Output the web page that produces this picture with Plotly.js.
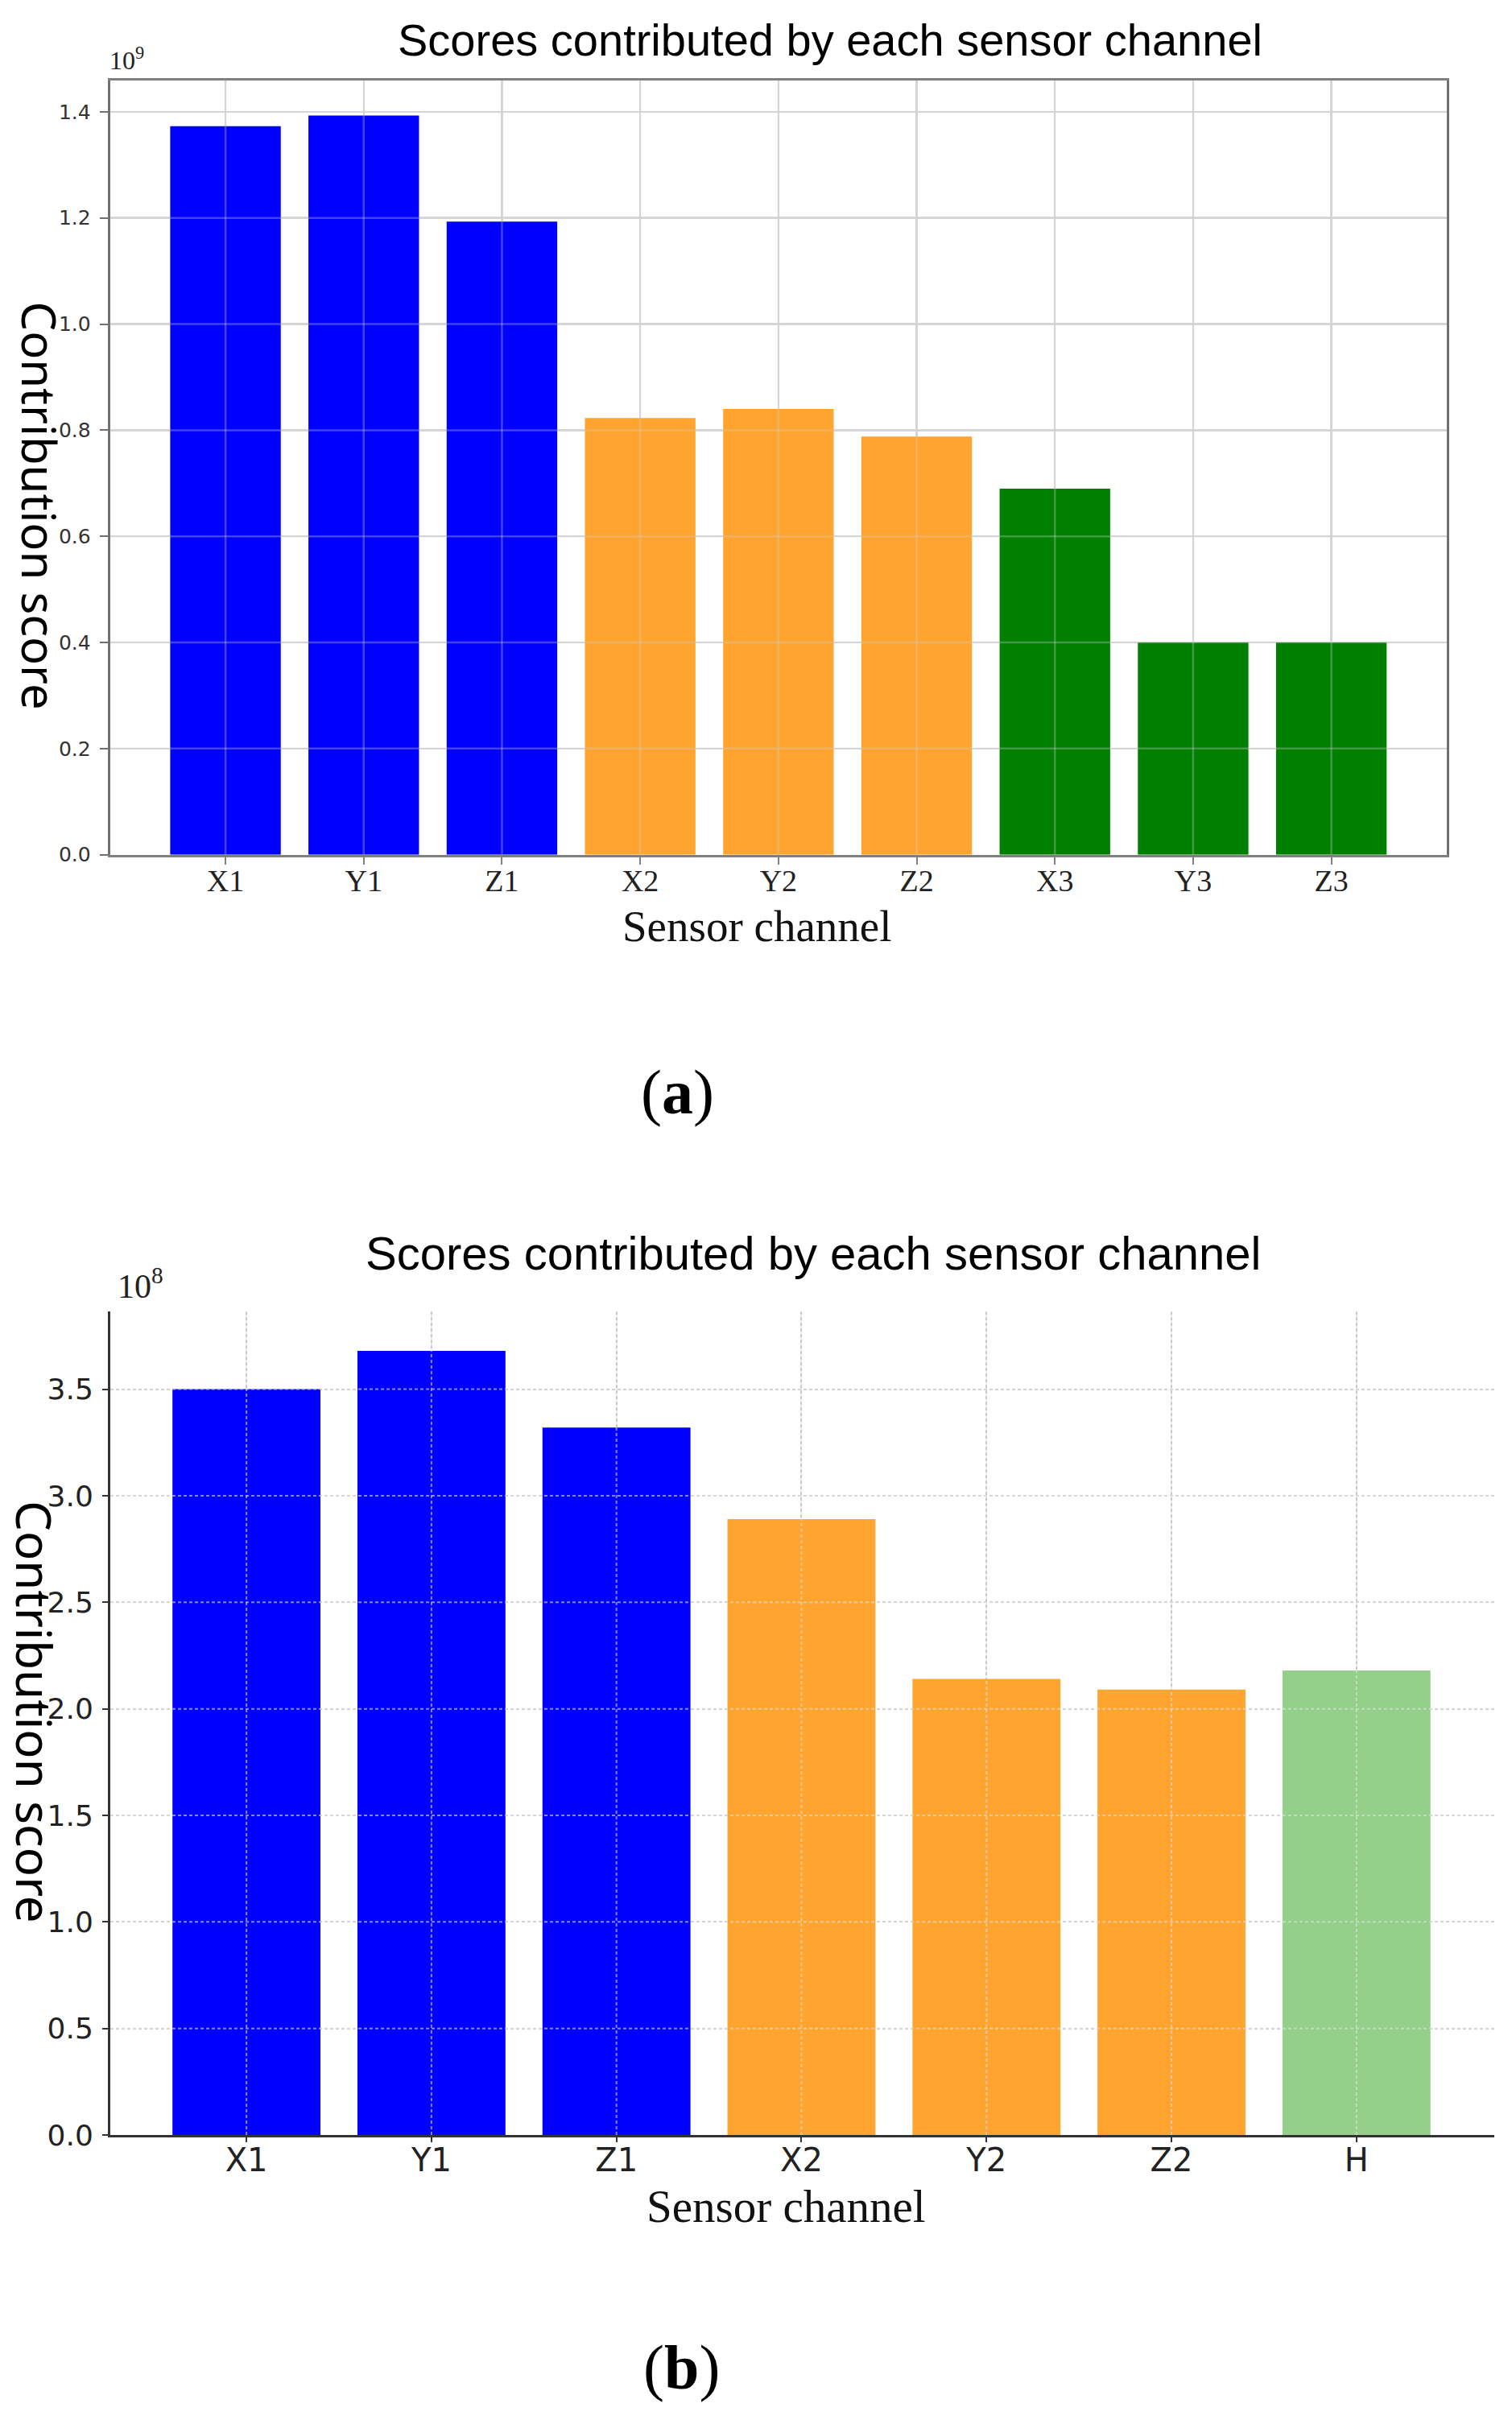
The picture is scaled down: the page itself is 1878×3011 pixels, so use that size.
<!DOCTYPE html>
<html>
<head>
<meta charset="utf-8">
<script src="https://cdn.plot.ly/plotly-3.0.1.min.js"></script>
<style>html,body{margin:0;padding:0;background:#fff;} #chart{width:1878px;height:3011px;}</style>
</head>
<body>
<div id="chart"></div>
<script>
// ---------- data (values in axis units; multiplier shown as 10^exp) ----------
const channelsA = ['X1','Y1','Z1','X2','Y2','Z2','X3','Y3','Z3'];
const scoresA   = [1.373, 1.393, 1.193, 0.823, 0.840, 0.788, 0.690, 0.400, 0.400];
const groupA    = [1, 1, 1, 2, 2, 2, 3, 3, 3];
const expA      = 9;
const yTicksA   = [0.0, 0.2, 0.4, 0.6, 0.8, 1.0, 1.2, 1.4];

const channelsB = ['X1','Y1','Z1','X2','Y2','Z2','H'];
const scoresB   = [3.50, 3.68, 3.32, 2.89, 2.14, 2.09, 2.18];
const groupB    = [1, 1, 1, 2, 2, 2, 3];
const expB      = 8;
const yTicksB   = [0.0, 0.5, 1.0, 1.5, 2.0, 2.5, 3.0, 3.5];

const chartTitle = 'Scores contributed by each sensor channel';
const xTitle = 'Sensor channel';
const yTitle = 'Contribution score';

// ---------- styles ----------
const colorsA = {1:'#0000FF', 2:'#FFA52F', 3:'#008000'};
const colorsB = {1:'#0000FF', 2:'#FFA52F', 3:'#94D08A'};
const W = 1878, H = 3011;
const SANS = 'Liberation Sans, Arial, sans-serif';
const SERIF = 'Liberation Serif, Times New Roman, serif';
const TICKSANS = 'DejaVu Sans, sans-serif';
const px = v => v / W;           // pixel -> paper x
const py = v => 1 - v / H;       // pixel -> paper y

const traceA = {
  type:'bar', x: channelsA, y: scoresA, xaxis:'x', yaxis:'y',
  marker:{color: groupA.map(g => colorsA[g]), line:{width:0}},
  hoverinfo:'x+y', showlegend:false
};
const traceB = {
  type:'bar', x: channelsB, y: scoresB, xaxis:'x2', yaxis:'y2',
  marker:{color: groupB.map(g => colorsB[g]), line:{width:0}},
  hoverinfo:'x+y', showlegend:false
};

// grid lines drawn above bars (as in the reference)
const shapes = [];
channelsA.forEach(c => shapes.push({type:'line', layer:'above', xref:'x', yref:'y domain', x0:c, x1:c, y0:0, y1:1,
  line:{color:'rgba(205,205,205,0.32)', width:2.5}}));
yTicksA.slice(1).forEach(t => shapes.push({type:'line', layer:'above', xref:'x domain', yref:'y', x0:0, x1:1, y0:t, y1:t,
  line:{color:'rgba(205,205,205,0.32)', width:2.5}}));
channelsB.forEach(c => shapes.push({type:'line', layer:'above', xref:'x2', yref:'y2 domain', x0:c, x1:c, y0:0, y1:1,
  line:{color:'rgba(225,225,225,0.6)', width:2, dash:'4px,3px'}}));
yTicksB.slice(1).forEach(t => shapes.push({type:'line', layer:'above', xref:'x2 domain', yref:'y2', x0:0, x1:1, y0:t, y1:t,
  line:{color:'rgba(225,225,225,0.6)', width:2, dash:'4px,3px'}}));

const annotations = [
  // panel (a)
  {text: chartTitle, xref:'paper', yref:'paper', x:px(1031), y:py(50), xanchor:'center', yanchor:'middle', showarrow:false,
   font:{family:SANS, size:56, color:'#000'}},
  {text: '10<sup>' + expA + '</sup>', xref:'paper', yref:'paper', x:px(134), y:py(73), xanchor:'left', yanchor:'middle', showarrow:false,
   font:{family:SERIF, size:32, color:'#222'}},
  {text: yTitle, xref:'paper', yref:'paper', x:px(8), y:py(628), xanchor:'left', yanchor:'middle', textangle:90, showarrow:false,
   font:{family:'Noto Sans, sans-serif', size:58, color:'#000'}},
  {text: xTitle, xref:'paper', yref:'paper', x:px(940), y:py(1150), xanchor:'center', yanchor:'middle', showarrow:false,
   font:{family:SERIF, size:55, color:'#111'}},
  {text: '(<b>a</b>)', xref:'paper', yref:'paper', x:px(841), y:py(1356), xanchor:'center', yanchor:'middle', showarrow:false,
   font:{family:SERIF, size:78, color:'#000'}},
  // panel (b)
  {text: chartTitle, xref:'paper', yref:'paper', x:px(1010), y:py(1556), xanchor:'center', yanchor:'middle', showarrow:false,
   font:{family:SANS, size:58, color:'#000'}},
  {text: '10<sup>' + expB + '</sup>', xref:'paper', yref:'paper', x:px(144), y:py(1594), xanchor:'left', yanchor:'middle', showarrow:false,
   font:{family:SERIF, size:42, color:'#222'}},
  {text: yTitle, xref:'paper', yref:'paper', x:px(0), y:py(2126), xanchor:'left', yanchor:'middle', textangle:90, showarrow:false,
   font:{family:'Noto Sans, sans-serif', size:60, color:'#000'}},
  {text: xTitle, xref:'paper', yref:'paper', x:px(976), y:py(2740), xanchor:'center', yanchor:'middle', showarrow:false,
   font:{family:SERIF, size:57, color:'#111'}},
  {text: '(<b>b</b>)', xref:'paper', yref:'paper', x:px(846), y:py(2940), xanchor:'center', yanchor:'middle', showarrow:false,
   font:{family:SERIF, size:78, color:'#000'}}
];

const layout = {
  width: W, height: H,
  margin:{l:0, r:0, t:0, b:0, pad:0},
  paper_bgcolor:'#ffffff', plot_bgcolor:'#ffffff',
  bargap: 0.2,
  showlegend:false,
  xaxis:{
    domain:[px(136.7), px(1797)], anchor:'y',
    type:'category', range:[-0.835, 8.835], fixedrange:true,
    showline:true, mirror:true, linecolor:'#808080', linewidth:3,
    showgrid:true, gridcolor:'#d9d9d9', gridwidth:2.5,
    ticks:'outside', ticklen:9, tickwidth:2, tickcolor:'#808080',
    ticklabelstandoff:-12,
    tickfont:{family:SERIF, size:38, color:'#222'}, zeroline:false
  },
  yaxis:{
    domain:[py(1061.7), py(100)], anchor:'x',
    range:[0, 1.459], tickvals:yTicksA, tickformat:'.1f', fixedrange:true,
    showline:true, mirror:true, linecolor:'#707070', linewidth:3,
    showgrid:true, gridcolor:'#d9d9d9', gridwidth:2.5,
    ticks:'outside', ticklen:10, tickwidth:2, tickcolor:'#707070',
    ticklabelstandoff:6,
    tickfont:{family:TICKSANS, size:25, color:'#333'}, zeroline:false
  },
  xaxis2:{
    domain:[px(137), px(1856)], anchor:'y2',
    type:'category', range:[-0.736, 6.745], fixedrange:true,
    showline:true, mirror:false, linecolor:'#333', linewidth:3,
    showgrid:true, gridcolor:'#c8c8c8', gridwidth:2, griddash:'4px,3px',
    ticks:'outside', ticklen:6, tickwidth:2, tickcolor:'#333',
    ticklabelstandoff:-12,
    tickfont:{family:TICKSANS, size:40, color:'#222'}, zeroline:false
  },
  yaxis2:{
    domain:[py(2652), py(1629)], anchor:'x2',
    range:[0, 3.865], tickvals:yTicksB, tickformat:'.1f', fixedrange:true,
    showline:true, mirror:false, linecolor:'#333', linewidth:3,
    showgrid:true, gridcolor:'#c8c8c8', gridwidth:2, griddash:'4px,3px',
    ticks:'outside', ticklen:7, tickwidth:2, tickcolor:'#333',
    ticklabelstandoff:4,
    tickfont:{family:TICKSANS, size:36, color:'#222'}, zeroline:false
  },
  shapes: shapes,
  annotations: annotations
};

Plotly.newPlot('chart', [traceA, traceB], layout, {displayModeBar:false, staticPlot:true});
</script>
</body>
</html>
